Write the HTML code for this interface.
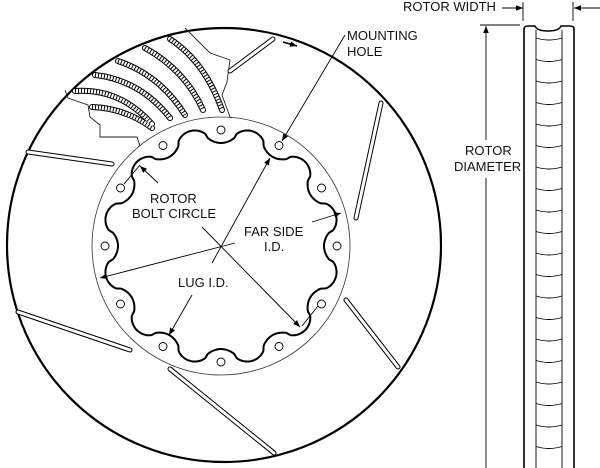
<!DOCTYPE html>
<html><head><meta charset="utf-8"><style>
html,body{margin:0;padding:0;background:#fff;}
svg{display:block;}
text{font-family:"Liberation Sans",Arial,sans-serif;font-size:13px;fill:#111;}
</style></head><body>
<svg id="s" width="600" height="468" viewBox="0 0 600 468" xmlns="http://www.w3.org/2000/svg">
<defs>
<marker id="a" viewBox="0 0 10 10" refX="10" refY="5" markerWidth="9" markerHeight="7" orient="auto-start-reverse" markerUnits="userSpaceOnUse"><path d="M0,1 L10,5 L0,9 z" fill="#000"/></marker>
</defs>
<!-- outer rotor -->
<circle cx="224" cy="245" r="217" fill="none" stroke="#000" stroke-width="2.2"/>
<!-- bolt circle thin -->
<circle cx="221" cy="246" r="129" fill="none" stroke="#333" stroke-width="0.8"/>
<g id="dyn"></g>
<!-- vane cutaway outline -->
<polyline points="185,28 210,53 230,60 227,82 222,95 230,117 232,118" fill="none" stroke="#222" stroke-width="0.9"/>
<polyline points="65,90 68,98 88,105 90,117 100,125 100,137 137,137 140,146" fill="none" stroke="#222" stroke-width="0.9"/>
<g fill="none" stroke-linecap="round">
<g stroke="#000" stroke-width="6">
<path d="M170,39 Q205,62 222,110"/><path d="M145,48 Q185,70 203,110"/><path d="M118,61 Q160,75 185,115"/><path d="M95,75 Q140,80 170,118"/><path d="M75,91 Q120,88 152,124"/><path d="M92,107 Q125,108 152,128"/>
</g>
<g stroke="#fff" stroke-width="4">
<path d="M170,39 Q205,62 222,110"/><path d="M145,48 Q185,70 203,110"/><path d="M118,61 Q160,75 185,115"/><path d="M95,75 Q140,80 170,118"/><path d="M75,91 Q120,88 152,124"/><path d="M92,107 Q125,108 152,128"/>
</g>
<g stroke="#000" stroke-width="4" stroke-dasharray="1 2" stroke-linecap="butt">
<path d="M170,39 Q205,62 222,110"/><path d="M145,48 Q185,70 203,110"/><path d="M118,61 Q160,75 185,115"/><path d="M95,75 Q140,80 170,118"/><path d="M75,91 Q120,88 152,124"/><path d="M92,107 Q125,108 152,128"/>
</g>
</g>
<!-- slots -->
<g stroke-linecap="round" fill="none">
<g stroke="#000" stroke-width="5">
<line x1="28" y1="152" x2="112" y2="164"/><line x1="230" y1="71" x2="273" y2="39"/>
<line x1="381" y1="103" x2="356" y2="218"/><line x1="346" y1="300" x2="398" y2="367"/>
<line x1="18" y1="312" x2="130" y2="350"/><line x1="170" y1="369" x2="274" y2="453"/>
</g>
<g stroke="#fff" stroke-width="3">
<line x1="28" y1="152" x2="112" y2="164"/><line x1="230" y1="71" x2="273" y2="39"/>
<line x1="381" y1="103" x2="356" y2="218"/><line x1="346" y1="300" x2="398" y2="367"/>
<line x1="18" y1="312" x2="130" y2="350"/><line x1="170" y1="369" x2="274" y2="453"/>
</g>
</g>
<line x1="283" y1="42" x2="297" y2="46" stroke="#000" stroke-width="1.5" marker-end="url(#a)"/>
<!-- dimension lines -->
<g stroke="#000" stroke-width="0.9" fill="none">
<line x1="235" y1="243" x2="100" y2="278" marker-end="url(#a)"/>
<line x1="312" y1="222" x2="341" y2="213" marker-end="url(#a)"/>
<line x1="212" y1="263" x2="270" y2="158" marker-end="url(#a)"/>
<line x1="202" y1="227" x2="300" y2="327" marker-end="url(#a)"/>
<line x1="192" y1="295" x2="169" y2="335" marker-end="url(#a)"/>
<line x1="158" y1="183" x2="140" y2="166" marker-end="url(#a)"/>
<line x1="140" y1="165" x2="124" y2="184"/>
<line x1="302" y1="326" x2="318" y2="306"/>
<line x1="345" y1="35" x2="282" y2="141" marker-end="url(#a)"/>
<!-- rotor width -->
<line x1="502" y1="8" x2="523" y2="8" marker-end="url(#a)"/>
<line x1="600" y1="8" x2="574" y2="8" marker-end="url(#a)"/>
<line x1="523" y1="2" x2="523" y2="21"/><line x1="573" y1="2" x2="573" y2="21"/>
<!-- rotor diameter -->
<line x1="480" y1="25" x2="520" y2="25"/>
<line x1="486" y1="140" x2="486" y2="26" marker-end="url(#a)"/>
<line x1="486" y1="178" x2="486" y2="468"/>
</g>
<!-- side view -->
<path d="M524,468 L524,29 Q524,26 528,26 L535,26 Q537,31 548,31 Q559,31 561,26 L570,26 Q574,26 574,29 L574,468" fill="none" stroke="#000" stroke-width="1.6"/>
<line x1="536" y1="30" x2="536" y2="468" stroke="#000" stroke-width="0.9"/>
<line x1="562" y1="30" x2="562" y2="468" stroke="#000" stroke-width="0.9"/>
<g id="ribs"></g>
<!-- labels -->
<text x="347" y="40">MOUNTING</text><text x="347" y="56">HOLE</text>
<text x="150" y="203">ROTOR</text><text x="132" y="218">BOLT CIRCLE</text>
<text x="244" y="236">FAR SIDE</text><text x="264" y="251">I.D.</text>
<text x="178" y="287">LUG I.D.</text>
<text x="403" y="11">ROTOR WIDTH</text>
<text x="465" y="155">ROTOR</text><text x="454" y="171">DIAMETER</text>
</svg>
<script>
var NS="http://www.w3.org/2000/svg",g=document.getElementById("dyn");
var cx=221,cy=246,d="";
for(var i=0;i<=720;i++){var t=i/720*2*Math.PI;var ph=12*(t+75*Math.PI/180);var c=Math.cos(ph);
var r=111+8*Math.sign(c)*Math.pow(Math.abs(c),0.6);
var x=cx+r*Math.cos(t),y=cy+r*Math.sin(t);d+=(i?"L":"M")+x.toFixed(1)+","+y.toFixed(1);}
var p=document.createElementNS(NS,"path");p.setAttribute("d",d+"Z");p.setAttribute("fill","none");p.setAttribute("stroke","#000");p.setAttribute("stroke-width","2");g.appendChild(p);
for(var k=0;k<12;k++){var a=(-90+30*k)*Math.PI/180;var c2=document.createElementNS(NS,"circle");
c2.setAttribute("cx",(cx+116*Math.cos(a)).toFixed(1));c2.setAttribute("cy",(cy+116*Math.sin(a)).toFixed(1));c2.setAttribute("r","4");c2.setAttribute("fill","#fff");c2.setAttribute("stroke","#000");c2.setAttribute("stroke-width","0.9");g.appendChild(c2);}
var rb=document.getElementById("ribs");
for(var y=38;y<468;y+=21.5){var q=document.createElementNS(NS,"path");q.setAttribute("d","M536,"+y+" Q549,"+(y+4)+" 562,"+y);q.setAttribute("fill","none");q.setAttribute("stroke","#000");q.setAttribute("stroke-width","0.9");rb.appendChild(q);}
</script>
</body></html>
